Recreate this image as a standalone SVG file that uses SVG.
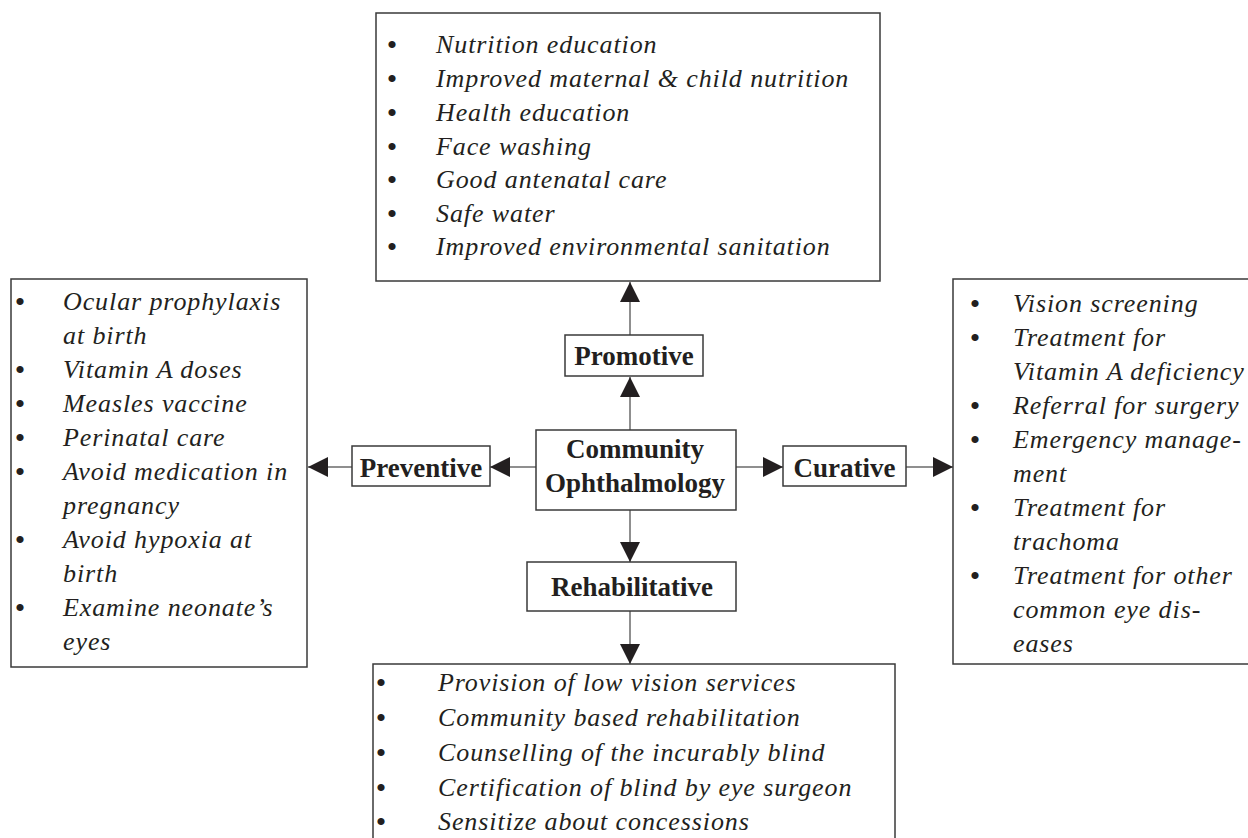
<svg xmlns="http://www.w3.org/2000/svg" width="1248" height="838" viewBox="0 0 1248 838">
<style>
.box{fill:#fff;stroke:#3a3a3a;stroke-width:1.5}
.lbl{font-family:"Liberation Serif",serif;font-weight:bold;font-size:27px;fill:#231f20;text-anchor:middle}
.it{font-family:"Liberation Serif",serif;font-style:italic;font-size:26px;fill:#231f20;letter-spacing:0.9px}
.bul{font-family:"Liberation Serif",serif;font-size:30px;fill:#231f20;text-anchor:middle}
.con{stroke:#6a6a6a;stroke-width:1.5;fill:none;marker-end:url(#ah)}
</style>
<defs>
<marker id="ah" markerUnits="userSpaceOnUse" markerWidth="20" markerHeight="20" refX="20" refY="10" orient="auto">
<path d="M0,0 L20,10 L0,20 z" fill="#231f20"/>
</marker>
</defs>
<rect width="1248" height="838" fill="#fff"/>
<g id="connectors">
<line class="con" x1="630" y1="430" x2="630" y2="377"/>
<line class="con" x1="630" y1="335" x2="630" y2="282"/>
<line class="con" x1="630" y1="510" x2="630" y2="562"/>
<line class="con" x1="630" y1="611" x2="630" y2="664"/>
<line class="con" x1="536" y1="467" x2="490" y2="467"/>
<line class="con" x1="352" y1="467" x2="308" y2="467"/>
<line class="con" x1="736" y1="467" x2="783" y2="467"/>
<line class="con" x1="906" y1="467" x2="953" y2="467"/>
</g>
<g id="center">
<rect class="box" x="536" y="430" width="200" height="80"/>
<text class="lbl" x="635" y="458">Community</text>
<text class="lbl" x="635" y="492">Ophthalmology</text>
</g>
<g id="promotive">
<rect class="box" x="565" y="335" width="138" height="41"/>
<text class="lbl" x="634" y="365">Promotive</text>
</g>
<g id="preventive">
<rect class="box" x="352" y="446" width="138" height="40"/>
<text class="lbl" x="421" y="477">Preventive</text>
</g>
<g id="curative">
<rect class="box" x="783" y="446" width="123" height="40"/>
<text class="lbl" x="844.5" y="477">Curative</text>
</g>
<g id="rehabilitative">
<rect class="box" x="527" y="562" width="209" height="49"/>
<text class="lbl" x="632" y="596">Rehabilitative</text>
</g>
<g id="promotive-list">
<rect class="box" x="376" y="13" width="504" height="268"/>
<g class="bul">
<text x="392" y="55">•</text><text x="392" y="89">•</text><text x="392" y="123">•</text><text x="392" y="157">•</text><text x="392" y="190">•</text><text x="392" y="224">•</text><text x="392" y="257">•</text>
</g>
<text class="it" x="436" y="53">Nutrition education</text>
<text class="it" x="436" y="87">Improved maternal &amp; child nutrition</text>
<text class="it" x="436" y="121">Health education</text>
<text class="it" x="436" y="155">Face washing</text>
<text class="it" x="436" y="188">Good antenatal care</text>
<text class="it" x="436" y="222">Safe water</text>
<text class="it" x="436" y="255">Improved environmental sanitation</text>
</g>
<g id="preventive-list">
<rect class="box" x="11" y="279" width="296" height="388"/>
<g class="bul">
<text x="20" y="312">•</text><text x="20" y="380">•</text><text x="20" y="414">•</text><text x="20" y="448">•</text><text x="20" y="482">•</text><text x="20" y="550">•</text><text x="20" y="618">•</text>
</g>
<text class="it" x="63" y="310">Ocular prophylaxis</text>
<text class="it" x="63" y="344">at birth</text>
<text class="it" x="63" y="378">Vitamin A doses</text>
<text class="it" x="63" y="412">Measles vaccine</text>
<text class="it" x="63" y="446">Perinatal care</text>
<text class="it" x="63" y="480">Avoid medication in</text>
<text class="it" x="63" y="514">pregnancy</text>
<text class="it" x="63" y="548">Avoid hypoxia at</text>
<text class="it" x="63" y="582">birth</text>
<text class="it" x="63" y="616">Examine neonate’s</text>
<text class="it" x="63" y="650">eyes</text>
</g>
<g id="curative-list">
<rect class="box" x="953" y="279" width="320" height="385"/>
<g class="bul">
<text x="975" y="314">•</text><text x="975" y="348">•</text><text x="975" y="416">•</text><text x="975" y="450">•</text><text x="975" y="518">•</text><text x="975" y="586">•</text>
</g>
<text class="it" x="1013" y="312">Vision screening</text>
<text class="it" x="1013" y="346">Treatment for</text>
<text class="it" x="1013" y="380">Vitamin A deficiency</text>
<text class="it" x="1013" y="414">Referral for surgery</text>
<text class="it" x="1013" y="448">Emergency manage-</text>
<text class="it" x="1013" y="482">ment</text>
<text class="it" x="1013" y="516">Treatment for</text>
<text class="it" x="1013" y="550">trachoma</text>
<text class="it" x="1013" y="584">Treatment for other</text>
<text class="it" x="1013" y="618">common eye dis-</text>
<text class="it" x="1013" y="652">eases</text>
</g>
<g id="rehabilitative-list">
<rect class="box" x="373" y="664" width="522" height="200"/>
<g class="bul">
<text x="381" y="693">•</text><text x="381" y="728">•</text><text x="381" y="763">•</text><text x="381" y="798">•</text><text x="381" y="832">•</text>
</g>
<text class="it" x="438" y="691">Provision of low vision services</text>
<text class="it" x="438" y="726">Community based rehabilitation</text>
<text class="it" x="438" y="761">Counselling of the incurably blind</text>
<text class="it" x="438" y="796">Certification of blind by eye surgeon</text>
<text class="it" x="438" y="830">Sensitize about concessions</text>
</g>
</svg>
